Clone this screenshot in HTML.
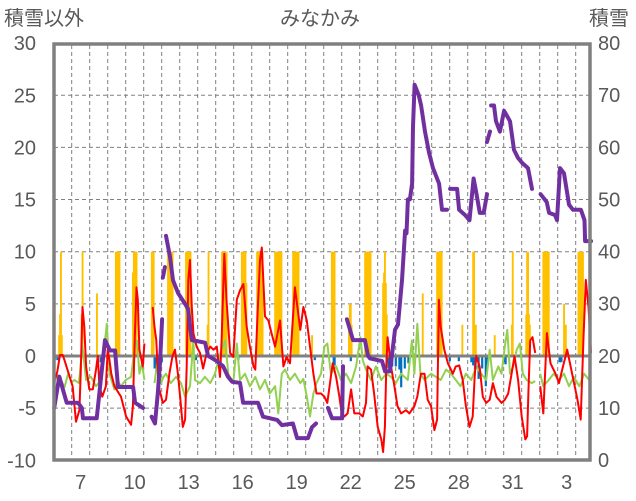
<!DOCTYPE html>
<html><head><meta charset="utf-8">
<style>
html,body{margin:0;padding:0;background:#fff;}
svg{display:block;font-family:"Liberation Sans","Noto Sans CJK JP",sans-serif;}
</style></head>
<body>
<svg id="chart" width="636" height="501" viewBox="0 0 636 501" xmlns="http://www.w3.org/2000/svg">
<rect x="0" y="0" width="636" height="501" fill="#fff"/>
<text x="4" y="25" font-size="20" fill="#595959">積雪以外</text>
<text x="320" y="25" font-size="20" fill="#595959" text-anchor="middle">みなかみ</text>
<text x="589" y="25" font-size="20" fill="#595959">積雪</text>
<g id="grid"></g>
<g id="bars"></g>
<g id="lines"></g>
<g id="axes"></g>
</svg>
<script>
const NS="http://www.w3.org/2000/svg";
// ---- data ----
const xTickLabels=["7","10","13","16","19","22","25","28","31","3"];
const xTickDays=[7,10,13,16,19,22,25,28,31,34];
const leftTicks=[-10,-5,0,5,10,15,20,25,30];
const rightTicks=[0,10,20,30,40,50,60,70,80];
const redT=[6.04,6.1,6.2,6.35,6.5,6.6,7.05,7.24,7.43,7.5,7.6,7.7,7.8,7.98,8.17,8.35,8.45,8.54,8.7,8.9,9.0,9.1,9.2,9.37,9.74,10.02,10.3,10.4,10.5,10.6,10.67,10.76,10.95,11.04,11.2,11.5,11.6,11.7,11.78,11.87,12.06,12.24,12.43,12.6,12.74,12.9,13.04,13.17,13.3,13.39,13.48,13.57,13.67,13.76,13.94,14.13,14.3,14.5,14.7,14.87,15.06,15.24,15.33,15.48,15.6,15.8,15.98,16.17,16.35,16.54,16.72,16.9,17.1,17.2,17.33,17.46,17.56,17.74,17.93,18.1,18.3,18.57,18.76,18.94,19.13,19.4,19.7,19.87,20.06,20.24,20.43,20.6,20.85,21.04,21.2,21.5,21.69,21.87,22,22.15,22.33,22.52,22.7,22.98,23.17,23.35,23.44,23.63,23.8,24,24.2,24.3,24.4,24.48,24.55,24.74,24.9,25.1,25.3,25.57,25.76,26.04,26.2,26.4,26.6,26.78,26.96,27.15,27.3,27.4,27.5,27.7,27.9,28.17,28.34,28.53,28.72,28.9,29.1,29.28,29.38,29.47,29.66,29.84,30.03,30.22,30.4,30.6,30.88,31.06,31.25,31.44,31.6,31.8,32,32.2,32.3,32.38,32.47,32.6,32.75,32.9,33.03,33.2,33.4,33.6,33.88,34.07,34.25,34.53,34.8,35.1,35.28,35.43,35.56,35.71,35.85];
const redV=[-1.7,-2.1,-1.5,0.1,0.1,-0.4,-2.9,-6.3,-5.2,-1.7,4.7,2.8,-1,-3.2,-3.2,-1.3,0,-2.9,-3.9,-2.9,0.6,-0.4,-1.7,-2.9,-3.9,-5.8,-6.6,-4.8,1.5,6.6,5.4,0.6,-1,1.2,null,4.7,2.8,1.5,-1.3,-3.2,-4.5,-4.2,-1.7,0,0.6,-1.7,-4.2,-6.8,-6.1,-1,7.3,9.2,4.7,2.2,0.9,0.3,-1.2,0.3,0.9,0.6,0.9,-2,1.5,9.8,5.4,0.3,-0.1,5.4,6.3,6.9,2.8,0.9,-1,-1.3,4.1,9.2,10.4,3.8,3.4,2.2,0.9,3.4,-1,-0.1,-0.7,6.6,2.5,4.7,3.4,0.9,-1.7,-3.6,-3.6,-3.9,-4.5,-0.7,-2,-3.9,-5.5,-5.8,-5.5,-3.2,-5.5,-5.5,-5.8,-4.5,-1,-1.3,-3.6,-6.8,-8,-9.2,-6.8,-1,1.8,-1,-2.6,-4.8,-5.5,-5.2,-5.5,-4.8,-3.9,-1.7,-1.7,-4.2,-4.8,-7.1,-6.1,5.4,2.8,0.6,-0.7,-1.7,-1,-0.9,-2.3,-4.8,-6.8,-5.8,-2.3,0,-1,-3.9,-4.5,-4.2,-2.6,-3.9,-4.5,-4.2,-3.6,-1.7,0,-2.3,-5.8,-8,-7.7,-3.2,1.5,1.8,0.3,null,-2.9,-5.5,2.2,-0.7,-1.7,-2.6,-1.3,0.6,-1.7,-4.2,-6.1,1.5,7.3,4.7,0.3];
const greenT=[6.02,6.2,6.4,6.6,6.8,7.0,7.15,7.4,7.6,7.8,8.07,8.35,8.63,8.8,8.95,9.1,9.37,9.55,9.74,10.0,10.3,10.5,10.63,10.76,10.9,11.04,11.3,11.6,11.78,11.96,12.1,12.24,12.5,12.8,13.07,13.3,13.57,13.76,13.85,14.13,14.4,14.7,14.96,15.15,15.33,15.52,15.7,15.98,16.17,16.35,16.63,16.9,17.2,17.46,17.74,18,18.3,18.48,18.67,18.85,19.13,19.4,19.7,19.87,20.06,20.24,20.43,20.6,20.85,21.04,21.2,21.4,21.69,21.96,22.24,22.52,22.8,23.04,23.17,23.35,23.63,23.9,24.2,24.48,24.74,25.0,25.3,25.67,25.9,26.04,26.2,26.37,26.6,26.96,27.24,27.5,27.8,28.07,28.34,28.6,28.9,29.2,29.47,29.75,30.03,30.22,30.4,30.7,30.88,31.06,31.2,31.35,31.53,31.72,31.9,32.06,32.28,32.56,32.75,32.9,33.03,33.2,33.5,33.78,34.07,34.35,34.63,34.9,35.2,35.47,35.75,35.85];
const greenV=[-2.6,-1.8,-2.3,-3.0,-1.7,-2.5,-2.3,-2.6,0.9,-2.3,-2,-2.9,-2.3,0.6,3.1,-1.7,-3.2,-2.4,-2.9,-2.3,-2,0.9,1.5,-1.7,-0.7,-2.3,null,-2.6,-0.4,-2.6,-2.0,-1.7,-2.6,-2,-2.6,-3.9,-2.9,1.5,-2.3,-2.6,-2,-2.6,-1.7,-0.4,0.6,1.5,-1.7,-2.6,1.2,-2.3,-1.7,-2.9,-2,-3.2,-2.3,-3.6,-2.9,-5.5,-1.7,-1.3,-2.3,-1.7,-2.6,-2.2,-3.9,-5.8,-3.6,-2.6,-1.7,0.9,1.2,-1.7,-1,-2.3,-1.7,-2.6,-1,1.8,-0.4,-1.3,-2.3,-1,-2.3,-1.7,-2,-2.6,-1.7,-2.3,1.5,-1.7,3.1,-1.7,-2.3,-1.7,-2,-2.3,-1.3,-1.7,-2.3,-2.9,-1.7,-2.3,-1,-1.7,-2.3,0.6,-2.3,-1,-1.7,0.9,2.5,-1.7,-1,0.6,1.2,-1.7,-2.3,-2.6,-2.4,null,-1.7,-2.9,-2.3,-1.7,-2.3,-1.7,-2.9,-2,-2.9,-1.7,-2.3,-2.6];
const snowT=[6.03,6.31,6.52,6.72,7.35,7.56,7.63,8.39,8.85,9.13,9.41,9.5,9.57,10.41,10.52,10.96,11.2,11.44,11.63,11.79,11.91,12.02,12.04,12.06,12.18,12.2,12.24,12.46,12.63,12.91,13.29,13.46,13.67,14.41,14.57,15.06,15.41,15.68,15.91,16.35,16.52,17.35,17.63,18.41,18.68,19.29,19.52,20.13,20.35,20.57,20.9,21.24,21.46,22.02,22.07,22.2,22.29,22.46,22.63,23.29,23.46,23.57,24.24,24.41,24.68,24.79,24.96,25.13,25.35,25.52,25.6,25.68,25.79,25.91,25.96,26.05,26.28,26.41,26.63,26.85,27.07,27.41,27.57,27.85,27.95,28.02,28.41,28.52,28.85,29.1,29.33,29.44,29.67,29.89,30.07,30.1,30.07,30.24,30.27,30.3,30.46,30.57,30.79,31.02,31.35,31.57,31.79,32.02,32.35,32.57,32.8,33.05,33.39,33.52,33.85,33.96,34.13,34.35,34.63,34.85,35.29,35.49,35.52,35.85];
const snowV=[10,16,13.4,11,11,10,8,8,23,21,21,17,14,14,11,10,null,8.3,7,13,19,27,null,35,37,null,43,39,34.5,32,30,29,23,22.5,20,19,18,16,15,14.8,11,11,8.3,7.7,6.7,7,4.2,4.2,6.3,7,null,10,8,8,18,null,27,25,23,23,20,19.5,19,17,17,20,25,26,34.5,44,43.5,50,50,53,64,72,70,68,63,59,56,53,48,48,null,52,52,48,47,46,54,52,47.4,47.4,51,null,61,63,null,68,68,65,63,67,65,59.5,58,57,56,52,null,51,49.5,47.4,47,46,56,55,49,48,48,46,42,42];
const precipT=[6.3,6.35,6.4,6.45,7.55,7.6,8.4,9.45,9.5,9.55,9.6,9.65,10.4,10.45,10.5,10.55,10.6,11.45,11.5,11.55,12.35,12.4,12.45,12.5,12.55,12.6,13.35,13.4,13.45,13.5,13.55,13.6,14.55,14.6,15.35,15.4,15.45,15.5,15.55,15.6,16.45,16.5,16.55,16.6,16.65,16.7,17.3,17.35,17.4,17.45,17.5,17.55,17.6,18.3,18.35,18.4,18.45,18.5,18.55,18.6,18.65,19.3,19.35,19.4,19.45,19.5,19.55,19.6,20.35,21.45,21.5,21.55,21.6,22.4,22.45,22.5,22.55,23.3,23.35,23.4,23.45,23.5,23.55,23.6,24.3,24.35,24.4,24.45,24.5,26.5,27.3,27.35,27.4,27.45,27.5,27.55,28.7,29.3,29.35,29.4,29.45,30.5,31.45,31.5,32.25,32.3,32.35,32.4,32.45,33.2,33.25,33.3,33.35,33.4,33.45,33.5,34.35,34.4,34.45,35.15,35.2,35.25,35.3,35.35,35.4];
const precipV=[2,4,10,2,4,10,6,10,10,10,10,10,8,10,10,10,10,10,9,10,10,10,10,10,10,10,10,10,10,10,10,10,3,10,10,10,10,10,10,10,10,10,7,10,10,7,10,10,10,10,10,10,10,10,10,10,10,10,10,10,10,10,10,10,10,10,10,10,2,10,10,10,10,3,5,5,3,10,10,10,10,10,10,10,7,8,10,7,4,6,10,10,10,10,10,10,3,10,10,3,3,2,3,10,4,10,10,4,3,10,10,10,10,10,10,10,5,3,3,10,10,10,10,10,10];
const freezeT=[6.05,6.2,8.6,11.6,11.7,11.8,11.9,12.0,13.9,16.25,20.5,21.55,21.6,22.5,24.5,24.6,24.8,25.0,25.2,25.3,25.5,25.7,28.0,28.5,29.2,29.3,29.4,29.6,29.8,30.0,30.1,31.0,31.1,34.1,34.2];
const freezeV=[-0.4,-0.4,-0.6,-1.2,-1.6,-2,-1.2,-0.6,-0.4,-0.4,-0.4,-0.7,-0.9,-0.5,-0.6,-1.2,-1,-1,-1.3,-3,-1.2,-0.7,-0.5,-0.5,-0.6,-0.9,-1.4,-2.2,-1.2,-2.9,-0.8,-0.6,-0.8,-0.6,-0.6];
// ---- scales ----
const X0=53.7, DAYW=18, T0=6, TMAX=35.85;
function x(t){return X0+(t-T0)*DAYW;}
function yL(v){return 356-v*10.43;}
function yR(s){return 460-s*5.2125;}
const grid=document.getElementById('grid'), bars=document.getElementById('bars'), lines=document.getElementById('lines'), axes=document.getElementById('axes');
function mk(tag,attrs,parent){const e=document.createElementNS(NS,tag);for(const k in attrs)e.setAttribute(k,attrs[k]);parent.appendChild(e);return e;}
// grid
leftTicks.forEach(v=>{if(v===-10||v===30||v===0)return;
 const l=mk('line',{x1:54,x2:590,y1:yL(v),y2:yL(v),stroke:'#808080','stroke-width':1,'stroke-dasharray':'4,3'},grid);
 
 });
for(let d=7;d<=35;d++){const l=mk('line',{x1:x(d),x2:x(d),y1:45,y2:458,stroke:'#808080','stroke-width':1,'stroke-dasharray':'4,3'},grid);
 
 }
// precip bars
precipT.forEach((t,i)=>{const h=precipV[i]*10.43;const r=mk('rect',{x:x(t)-0.9,y:yL(0)-h,width:1.9,height:h,fill:'#ffc000'},bars);
 
 });
freezeT.forEach((t,i)=>{const h=-freezeV[i]*10.43;const r=mk('rect',{x:x(t)-1,y:yL(0),width:2.2,height:h,fill:'#0070c0'},bars);
 
 });
function path(T,V,fy){let d='',pen=false;T.forEach((t,i)=>{const v=V[i];if(v===null){pen=false;return;}const tt=Math.min(t,TMAX);d+=(pen?'L':'M')+x(tt).toFixed(1)+','+fy(v).toFixed(1);pen=true;});return d;}
// zero line
const z=mk('line',{x1:54,x2:590,y1:yL(0),y2:yL(0),stroke:'#808080','stroke-width':3},lines);


const g=mk('path',{d:path(greenT,greenV,yL),fill:'none',stroke:'#92d050','stroke-width':2,'stroke-linejoin':'round'},lines);


const r=mk('path',{d:path(redT,redV,yL),fill:'none',stroke:'#ff0000','stroke-width':2,'stroke-linejoin':'round'},lines);


const p=mk('path',{d:path(snowT,snowV,yR),fill:'none',stroke:'#7030a0','stroke-width':4,'stroke-linejoin':'round','stroke-linecap':'round'},lines);


// frame
const f=mk('rect',{x:54,y:44,width:536,height:416,fill:'none',stroke:'#808080','stroke-width':3.5},axes);


leftTicks.forEach(v=>{const t=mk('text',{x:36,y:yL(v)+7,'font-size':20,fill:'#595959','text-anchor':'end'},axes);t.textContent=String(v);
 
 });
rightTicks.forEach(v=>{const t=mk('text',{x:598,y:yR(v)+7,'font-size':20,fill:'#595959'},axes);t.textContent=String(v);
 
 });
xTickDays.forEach((d,i)=>{const t=mk('text',{x:x(d)+9,y:489,'font-size':20,fill:'#595959','text-anchor':'middle'},axes);t.textContent=xTickLabels[i];
 
 });
</script>
</body></html>
